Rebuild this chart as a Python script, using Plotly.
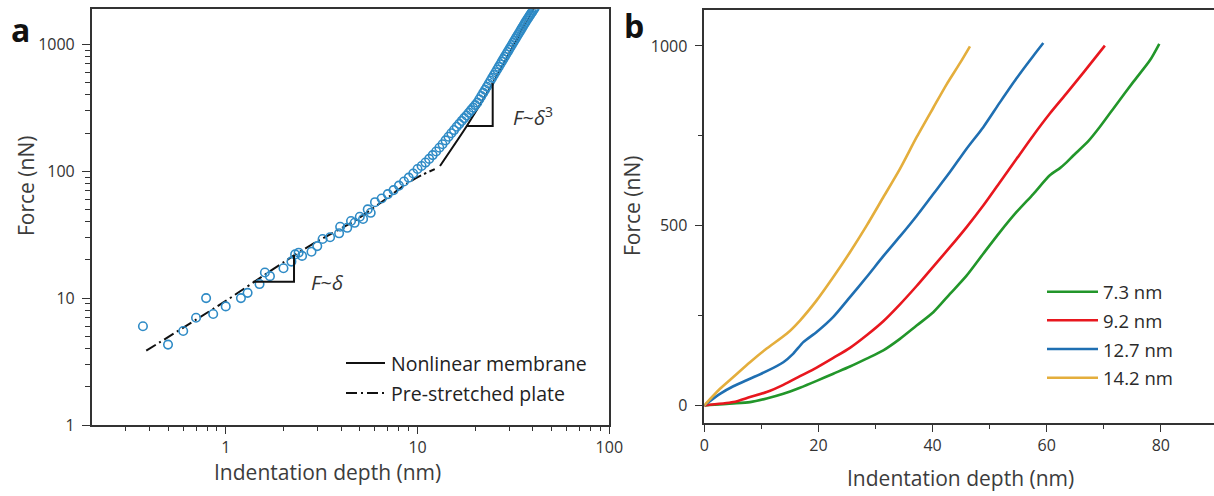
import math
import plotly.graph_objects as go

W, H = 1214, 496
FONT = "Open Sans"
INK = "#333333"

# ---------------- panel a: force vs indentation depth (log-log) ----------------
depth_a = [0.37, 0.50, 0.60, 0.70, 0.79, 0.86, 1.0, 1.2, 1.3, 1.5, 1.6, 1.7, 2.0,
           2.2, 2.3, 2.4, 2.5, 2.8, 3.0, 3.2, 3.5, 3.9, 3.95, 4.3, 4.5, 4.7, 5.0,
           5.2, 5.5, 5.7,
           6.0, 6.5, 7.0, 7.5, 8.0, 8.5, 9.0, 9.5, 10.0, 10.5, 11.0, 11.5, 12.0,
           12.5, 13.0, 13.5, 14.0, 14.5, 15.0, 15.5, 16.0, 16.5, 17.0, 17.5, 18.0,
           18.5, 19.0, 19.5, 20.0, 20.5, 21.0, 21.5, 22.0, 22.5, 23.0, 23.5, 24.0,
           24.5, 25.0, 25.5, 26.0, 26.5, 27.0, 27.5, 28.0, 28.5, 29.0, 29.5, 30.0,
           30.5, 31.0, 31.5, 32.0, 32.5, 33.0, 33.5, 34.0, 34.5, 35.0, 35.5, 36.0,
           36.5, 37.0, 37.5, 38.0, 38.5, 39.0, 39.5, 40.0, 40.5, 41.0]
force_a = [6.0, 4.3, 5.5, 7.0, 10.0, 7.5, 8.6, 10.0, 11.0, 12.9, 15.9, 14.9, 17.2,
           19.4, 22.1, 22.8, 21.5, 23.2, 25.7, 29.2, 30.2, 32.4, 36.5, 35.8, 40.5,
           39.2, 43.8, 42.0, 50.0, 47.0,
           57, 61, 66, 71, 77, 83, 89, 96, 104, 110, 117, 125, 134,
           143, 153, 163, 175, 187, 199, 211, 224, 236, 249, 262, 275,
           289, 303, 317, 332, 347, 369, 391, 414, 438, 463, 489, 516,
           544, 573, 602, 633, 664, 697, 730, 764, 799, 835, 871, 909,
           948, 988, 1029, 1070, 1113, 1157, 1201, 1246, 1293, 1340, 1388, 1438,
           1488, 1540, 1590, 1639, 1689, 1740, 1792, 1844, 1897, 1950]

# pre-stretched plate model (dash-dot) and nonlinear membrane model (solid)
plate_depth = [0.385, 1.0, 1.393, 2.27, 3.0, 4.77, 7.0, 8.8, 10.5, 12.3]
plate_force = [3.85, 9.5, 13.3, 21.7, 28.0, 41.2, 62.0, 80.0, 93.0, 104.0]
membrane_depth = [13.1, 18.07, 24.66, 31.6, 40.2, 41.5]
membrane_force = [110, 227, 493, 975, 1888, 2050]

# slope guides (horizontal then vertical leg)
guide1_depth = [1.393, 2.27, 2.27]
guide1_force = [13.47, 13.47, 21.9]
guide3_depth = [18.07, 24.66, 24.66]
guide3_force = [227, 227, 493]

xa_ticks = [1, 10, 100]
xa_ticktext = ["1", "10", "100"]
ya_ticks = [1, 10, 100, 1000]
ya_ticktext = ["1", "10", "100", "1000"]

# ---------------- panel b: force vs indentation depth (linear) ----------------
thickness_labels = ["7.3 nm", "9.2 nm", "12.7 nm", "14.2 nm"]
line_colors = ["#22962a", "#e8171e", "#1f6fb2", "#e4ae3c"]

depth_73 = [0, 5.09, 8.01, 10.93, 13.85, 16.77, 19.69, 22.61, 25.53, 28.45, 31.37,
            34.29, 37.21, 40.13, 43.05, 45.97, 48.89, 51.81, 54.73, 57.65, 60.56,
            62.33, 63.48, 64.67, 67.30, 69.34, 72.26, 75.18, 78.10, 79.74]
force_73 = [0, 5, 9, 19, 32, 49, 68, 88, 108, 130, 153,
            185, 222, 259, 310, 361, 422, 482, 538, 588, 640,
            660, 676, 695, 735, 775, 838, 900, 960, 1006]

depth_92 = [0, 5.09, 8.01, 10.93, 13.85, 16.77, 19.69, 22.61, 25.53, 28.45, 31.37,
            34.29, 37.21, 40.13, 43.05, 45.97, 48.89, 51.81, 54.73, 57.65, 60.56,
            63.48, 66.40, 70.20]
force_92 = [0, 9, 23, 37, 57, 81, 105, 132, 160, 195, 234,
            281, 332, 386, 440, 496, 556, 621, 686, 751, 812,
            868, 925, 1001]

depth_127 = [0, 2.75, 5.09, 8.01, 10.93, 13.85, 15.60, 17.35, 19.69, 22.61, 25.53,
             28.45, 31.37, 34.29, 37.21, 40.13, 43.05, 45.97, 48.89, 51.81, 54.73,
             57.65, 59.41]
force_127 = [0, 32, 53, 74, 95, 120, 144, 176, 204, 246, 301,
             357, 415, 470, 527, 588, 649, 714, 774, 843, 910,
             972, 1008]

depth_142 = [0, 2.75, 5.09, 8.01, 10.93, 14.43, 16.77, 19.69, 22.61, 25.53, 28.45,
             31.37, 34.29, 37.21, 40.13, 42.47, 44.80, 46.56]
force_142 = [0, 46, 79, 120, 158, 199, 236, 292, 357, 426, 500,
             579, 658, 746, 828, 893, 952, 999]

xb_ticks = [0, 20, 40, 60, 80]
xb_minor = [10, 30, 50, 70]
yb_ticks = [0, 500, 1000]
yb_minor = [250, 750]

series_b = [(depth_73, force_73), (depth_92, force_92),
            (depth_127, force_127), (depth_142, force_142)]


def px(x):
    return x / W


def py(y):
    return 1 - y / H


fig = go.Figure()

# panel a traces
fig.add_trace(go.Scatter(x=plate_depth, y=plate_force, mode="lines",
                         line=dict(color="#111111", width=2, dash="11px,4px,2px,4px",
                                   shape="spline", smoothing=0.6),
                         xaxis="x", yaxis="y", showlegend=False))
fig.add_trace(go.Scatter(x=membrane_depth, y=membrane_force, mode="lines",
                         line=dict(color="#111111", width=2, shape="spline", smoothing=0.6),
                         xaxis="x", yaxis="y", showlegend=False))
fig.add_trace(go.Scatter(x=depth_a, y=force_a, mode="markers",
                         marker=dict(symbol="circle-open", size=8.5, color="#2f8bc6",
                                     line=dict(width=1.6, color="#2f8bc6")),
                         xaxis="x", yaxis="y", showlegend=False))
for gx, gy in ((guide1_depth, guide1_force), (guide3_depth, guide3_force)):
    fig.add_trace(go.Scatter(x=gx, y=gy, mode="lines",
                             line=dict(color="#111111", width=2),
                             xaxis="x", yaxis="y", showlegend=False))

# panel b traces
for (dx, fy), col, lab in zip(series_b, line_colors, thickness_labels):
    fig.add_trace(go.Scatter(x=dx, y=fy, mode="lines", name=lab,
                             line=dict(color=col, width=2.6, shape="spline", smoothing=0.7),
                             xaxis="x2", yaxis="y2", showlegend=False))

tickfont = dict(family=FONT, size=16, color=INK)
axis_common = dict(showline=True, linecolor=INK, linewidth=1.5, ticks="outside",
                   tickcolor=INK, tickwidth=1.3, showgrid=False, zeroline=False,
                   automargin=False, tickfont=tickfont)

log_minor_x = [m * 10 ** e for e in (-1, 0, 1) for m in range(2, 10) if m * 10 ** e > 0.2]
log_minor_y = [m * 10 ** e for e in (0, 1, 2, 3) for m in range(2, 10)]

fig.update_layout(
    width=W, height=H, autosize=False,
    margin=dict(l=0, r=0, t=0, b=0, pad=0, autoexpand=False),
    paper_bgcolor="white", plot_bgcolor="white",
    xaxis=dict(type="log", range=[math.log10(0.2), 2],
               domain=[px(91.7), px(609.3)], anchor="y", mirror=True,
               tickmode="array", tickvals=xa_ticks, ticktext=xa_ticktext, ticklen=7,
               minor=dict(tickmode="array", tickvals=log_minor_x, ticks="outside",
                          ticklen=4, tickwidth=1.2, tickcolor=INK),
               **axis_common),
    yaxis=dict(type="log", range=[0, 3.276],
               domain=[py(425), py(9.3)], anchor="x", mirror=True,
               tickmode="array", tickvals=ya_ticks, ticktext=ya_ticktext, ticklen=8,
               ticklabelstandoff=4,
               minor=dict(tickmode="array", tickvals=log_minor_y, ticks="outside",
                          ticklen=4.5, tickwidth=1.2, tickcolor=INK),
               **axis_common),
    xaxis2=dict(range=[0, (W - 704.3) / 5.706],
                domain=[px(704.3), 1.0], anchor="y2", mirror=True,
                tickmode="array", tickvals=xb_ticks, ticklen=7,
                minor=dict(tickmode="array", tickvals=xb_minor, ticks="outside",
                           ticklen=4, tickwidth=1.2, tickcolor=INK),
                **axis_common),
    yaxis2=dict(range=[-50, 1100],
                domain=[py(423.3), py(10)], anchor="x2", mirror=False,
                tickmode="array", tickvals=yb_ticks, ticklen=8,
                ticklabelstandoff=4,
                minor=dict(tickmode="array", tickvals=yb_minor, ticks="outside",
                           ticklen=4.5, tickwidth=1.2, tickcolor=INK),
                **axis_common),
)

ann = []
title_font = dict(family=FONT, size=21, color="#3c3c3c")
# axis titles
ann.append(dict(text="Indentation depth (nm)", x=px(327), y=py(472), xref="paper", yref="paper",
                showarrow=False, font=title_font, xanchor="center", yanchor="middle"))
ann.append(dict(text="Indentation depth (nm)", x=px(960), y=py(478), xref="paper", yref="paper",
                showarrow=False, font=title_font, xanchor="center", yanchor="middle"))
ann.append(dict(text="Force (nN)", x=px(26), y=py(186), xref="paper", yref="paper",
                showarrow=False, font=title_font, textangle=-90,
                xanchor="center", yanchor="middle"))
ann.append(dict(text="Force (nN)", x=px(632), y=py(206), xref="paper", yref="paper",
                showarrow=False, font=title_font, textangle=-90,
                xanchor="center", yanchor="middle"))
# panel letters
letter_font = dict(family=FONT, size=32, color="#111111")
ann.append(dict(text="<b>a</b>", x=px(9), y=py(29), xref="paper", yref="paper",
                showarrow=False, font=letter_font, xanchor="left", yanchor="middle"))
ann.append(dict(text="<b>b</b>", x=px(622), y=py(26), xref="paper", yref="paper",
                showarrow=False, font=letter_font, xanchor="left", yanchor="middle"))
# slope labels (log axes take log10 positions)
slope_font = dict(family=FONT, size=20, color=INK)
ann.append(dict(text="<i>F</i>~<i>δ</i>", x=math.log10(3.41), y=math.log10(13.2),
                xref="x", yref="y", showarrow=False, font=slope_font,
                xanchor="center", yanchor="middle"))
ann.append(dict(text="<i>F</i>~<i>δ</i><sup>3</sup>", x=math.log10(39.8), y=math.log10(272),
                xref="x", yref="y", showarrow=False, font=slope_font,
                xanchor="center", yanchor="middle"))

# legend for panel a
shapes = []
leg_a_font = dict(family=FONT, size=19.5, color="#222222")
for yy, label, dash in ((363, "Nonlinear membrane", "solid"),
                        (393, "Pre-stretched plate", "11px,4px,2px,4px")):
    shapes.append(dict(type="line", xref="paper", yref="paper",
                       x0=px(346), x1=px(385), y0=py(yy), y1=py(yy),
                       line=dict(color="#111111", width=2, dash=dash)))
    ann.append(dict(text=label, x=px(389), y=py(yy), xref="paper", yref="paper",
                    showarrow=False, font=leg_a_font, xanchor="left", yanchor="middle"))

# legend for panel b
leg_b_font = dict(family=FONT, size=18.5, color="#2a2a2a")
for yy, label, col in zip((291.7, 320.3, 349, 377.7), thickness_labels, line_colors):
    shapes.append(dict(type="line", xref="paper", yref="paper",
                       x0=px(1047), x1=px(1098), y0=py(yy), y1=py(yy),
                       line=dict(color=col, width=2.6)))
    ann.append(dict(text=label, x=px(1101), y=py(yy), xref="paper", yref="paper",
                    showarrow=False, font=leg_b_font, xanchor="left", yanchor="middle"))

fig.update_layout(annotations=ann, shapes=shapes)

# page chrome: let the figure sit flush in the window
page_css = ("document.body.style.margin='0';"
            "document.body.style.overflow='hidden';"
            "document.documentElement.style.overflow='hidden';")
fig.write_html("out.html", config={"displayModeBar": False}, post_script=page_css)
